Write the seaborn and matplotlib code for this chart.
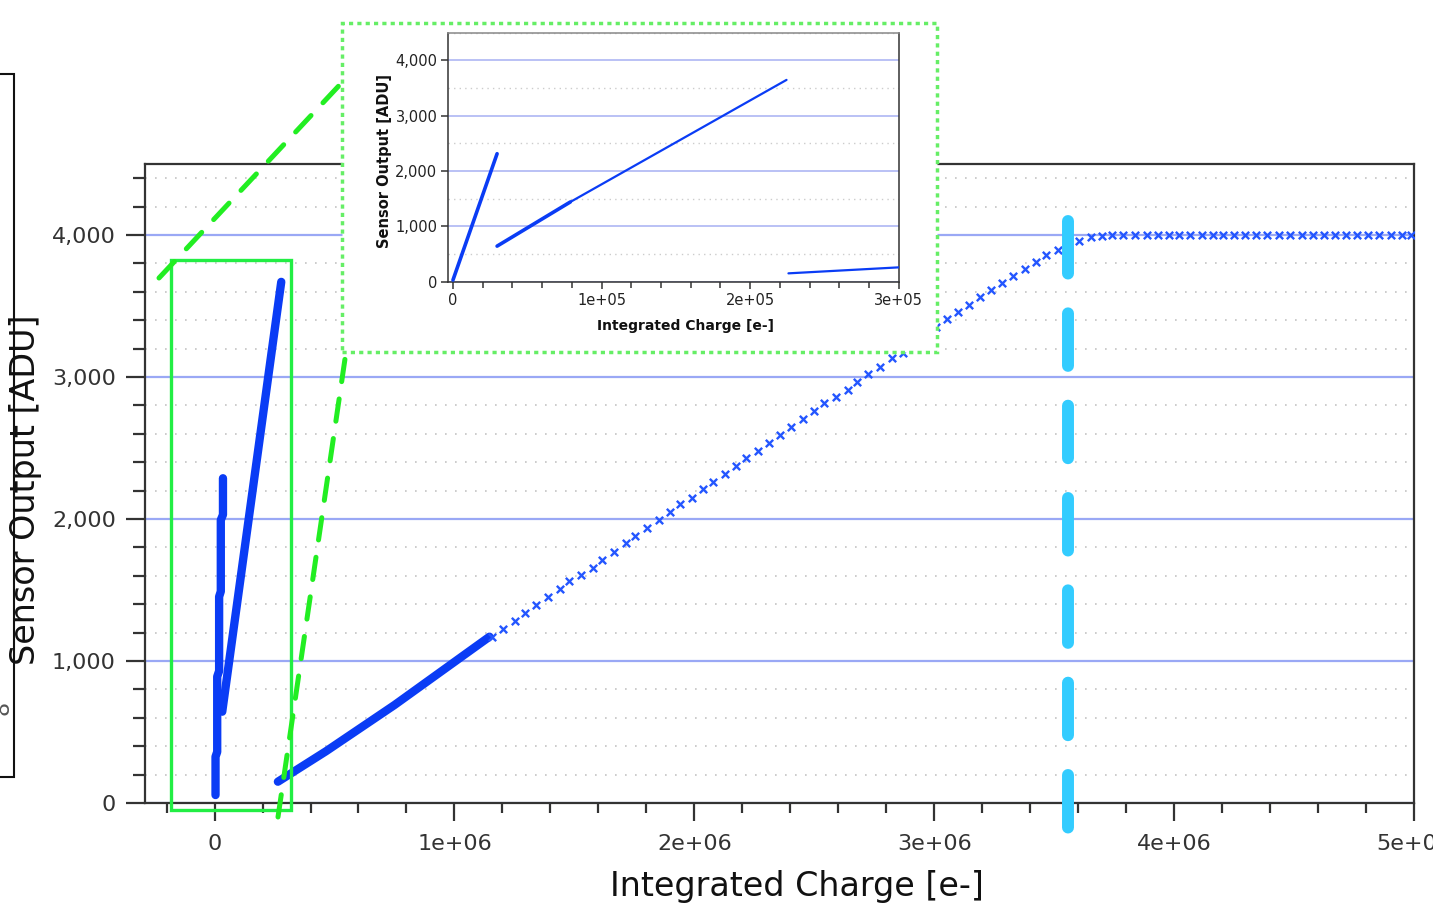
import matplotlib
matplotlib.use("Agg")
import matplotlib.pyplot as plt
import seaborn as sns
import pandas as pd
from matplotlib.patches import Rectangle
from matplotlib.lines import Line2D
from matplotlib.ticker import MultipleLocator, StrMethodFormatter, FuncFormatter

# ---------------- data ----------------
# dense parts of the main curve (vertices of thick traces), charge in e-, output in ADU
dense_segment = ["A"] * 10 + ["B"] * 2 + ["C"] * 4
dense_x = [0.004e6, 0.004e6, 0.011e6, 0.011e6, 0.019e6, 0.019e6, 0.026e6, 0.026e6, 0.035e6, 0.035e6,
           0.032e6, 0.278e6,
           0.264e6, 0.465e6, 0.75e6, 1.146e6]
dense_y = [56, 326, 360, 890, 930, 1453, 1490, 1993, 2030, 2287,
           643, 3670,
           150, 365, 690, 1171]

# sparse points of the main curve (x in units of 1e6 e-)
sparse_x_mega = [1.155, 1.204, 1.253, 1.293, 1.342, 1.390, 1.439, 1.479, 1.528, 1.576,
                 1.617, 1.665, 1.714, 1.754, 1.803, 1.851, 1.900, 1.940, 1.989, 2.038,
                 2.079, 2.128, 2.175, 2.215, 2.264, 2.313, 2.358, 2.403, 2.451, 2.500,
                 2.542, 2.590, 2.639, 2.680, 2.726, 2.775, 2.823, 2.868, 2.913, 2.960,
                 3.007, 3.053, 3.101, 3.143, 3.190, 3.236, 3.282, 3.329, 3.378, 3.424,
                 3.465, 3.514, 3.558, 3.604, 3.653, 3.701, 3.743, 3.788, 3.838, 3.889,
                 3.931, 3.977, 4.021, 4.066, 4.116, 4.163, 4.204, 4.250, 4.296, 4.340,
                 4.389, 4.438, 4.482, 4.532, 4.579, 4.625, 4.671, 4.715, 4.764, 4.809,
                 4.854, 4.903, 4.949, 4.986]
sparse_y = [1171, 1227, 1284, 1340, 1394, 1449, 1504, 1561, 1604, 1658,
            1713, 1770, 1833, 1880, 1937, 1993, 2047, 2104, 2151, 2213,
            2261, 2317, 2373, 2427, 2481, 2537, 2593, 2650, 2704, 2761,
            2815, 2861, 2908, 2967, 3021, 3073, 3131, 3171, 3228, 3290,
            3354, 3406, 3456, 3509, 3565, 3613, 3660, 3711, 3763, 3810,
            3859, 3894, 3930, 3958, 3984, 3993, 4000, 4000, 3998, 4002,
            4000, 4001, 4003, 3999, 4000, 4002, 4000, 3999, 4001, 4003,
            4000, 3999, 4001, 4000, 4002, 4000, 4001, 3999, 4003, 4000,
            4001, 4000, 4002, 4003]

# inset (zoom on the low-charge region)
inset_segment = ["A", "A", "B1", "B1", "B2", "B2", "C", "C"]
inset_x = [0, 29700, 29700, 79000, 79000, 224500, 225800, 300000]
inset_y = [30, 2313, 643, 1441, 1441, 3647, 151, 259]

threshold_x = 3.558e6          # cyan dashed marker

main_yticks = [0, 1000, 2000, 3000, 4000]
main_xticks = [0, 1e6, 2e6, 3e6, 4e6, 5e6]
inset_xticks = [0, 1e5, 2e5, 3e5]

xlabel_text = "Integrated Charge [e-]"
ylabel_text = "Sensor Output [ADU]"

# ---------------- figure ----------------
W, H = 1433, 916
sns.set_theme(style="white")
plt.rcParams["font.family"] = ["DejaVu Sans"]

fig = plt.figure(figsize=(W / 100, H / 100), dpi=100)
fig.patch.set_facecolor("white")


def fx(px):
    return px / W


def fy(py):
    return 1 - py / H


BLUE = "#0a3cf5"
DARK = "#333333"

ax = fig.add_axes([fx(145), fy(803), fx(1414) - fx(145), fy(164) - fy(803)], zorder=0)
ax.set_facecolor("white")

dense_df = pd.DataFrame({"x": dense_x, "y": dense_y, "seg": dense_segment})
sns.lineplot(data=dense_df, x="x", y="y", units="seg", estimator=None, sort=False,
             color=BLUE, linewidth=6, ax=ax, zorder=4)

sparse_df = pd.DataFrame({"x": [v * 1e6 for v in sparse_x_mega], "y": sparse_y})
sns.scatterplot(data=sparse_df, x="x", y="y", marker="x", s=28, color="#2456ff",
                linewidth=1.7, ax=ax, zorder=4)

ax.set_xlim(-0.29e6, 5e6)
ax.set_ylim(0, 4500)
ax.set_xticks(main_xticks)
ax.set_yticks(main_yticks)
ax.xaxis.set_minor_locator(MultipleLocator(2e5))
ax.yaxis.set_minor_locator(MultipleLocator(200))
ax.xaxis.set_major_formatter(FuncFormatter(lambda v, _: "0" if v == 0 else f"{v:.0e}"))
ax.yaxis.set_major_formatter(StrMethodFormatter("{x:,.0f}"))

ax.set_axisbelow(True)
ax.yaxis.grid(True, which="major", color="#9aa8f5", linewidth=1.6)
ax.yaxis.grid(True, which="minor", color="#c4c4c4", linewidth=1.2, linestyle=(0, (1, 5)))
ax.xaxis.grid(False, which="both")

ax.tick_params(axis="y", which="major", direction="out", length=14, width=1.6, color=DARK,
               labelsize=16, labelcolor=DARK, pad=7, left=True)
ax.tick_params(axis="y", which="minor", direction="out", length=9, width=1.6, color=DARK, left=True)
ax.tick_params(axis="x", which="major", direction="out", length=13, width=1.6, color=DARK,
               labelsize=16, labelcolor=DARK, pad=9, bottom=True)
ax.tick_params(axis="x", which="minor", direction="out", length=7, width=1.6, color=DARK, bottom=True)
for s in ax.spines.values():
    s.set_color(DARK)
    s.set_linewidth(1.6)
    s.set_visible(True)

ax.set_xlabel(xlabel_text, fontsize=24, color="#111111")
ax.set_ylabel(ylabel_text, fontsize=24, color="#111111")
ax.xaxis.set_label_coords(0.514, -0.105)
ax.yaxis.set_label_coords(-0.081, 0.49)

# green zoom rectangle
ax.add_patch(Rectangle((-0.18e6, -50), 0.497e6, 3874, fill=False, ec="#22ee44", lw=2.4,
                       clip_on=False, zorder=5))

# cyan threshold dashed line
ax.plot([threshold_x, threshold_x], [4099, -204], color="#33ccff", lw=8.6,
        linestyle=(0, (4.4, 3.33)), dash_capstyle="round", clip_on=False, zorder=6)

# inset white box with dotted green border
fig.add_artist(Rectangle((fx(342), fy(352)), fx(937) - fx(342), fy(23) - fy(352),
                         transform=fig.transFigure, facecolor="white", edgecolor="#66ee66",
                         lw=2.5, linestyle=(0, (1.2, 1.2)), zorder=3))

# dashed connector lines
for (x0, y0), (x1, y1) in [((159, 278), (348, 76)), ((278, 817), (346, 352))]:
    fig.add_artist(Line2D([fx(x0), fx(x1)], [fy(y0), fy(y1)], transform=fig.transFigure,
                          color="#22ee22", lw=3.6, linestyle=(0, (4.5, 3.5)),
                          dash_capstyle="round", zorder=5))

# partial neighbouring panel at the far left
fig.add_artist(Rectangle((fx(-20), fy(777)), fx(14) - fx(-20), fy(74) - fy(777),
                         transform=fig.transFigure, fill=False, ec="#111111", lw=1.5, zorder=1))
fig.text(fx(2), fy(708), "8", rotation=90, fontsize=16, color="#555555",
         ha="center", va="center")

# ---------------- inset ----------------
axin = fig.add_axes([fx(448.5), fy(281.7), fx(898.7) - fx(448.5), fy(32.7) - fy(281.7)], zorder=4)
axin.set_facecolor("white")
inset_df = pd.DataFrame({"x": inset_x, "y": inset_y, "seg": inset_segment})
widths = {"A": 2.6, "B1": 2.6, "B2": 1.6, "C": 1.6}
for seg, sub in inset_df.groupby("seg"):
    sns.lineplot(data=sub, x="x", y="y", estimator=None, sort=False, color=BLUE,
                 linewidth=widths[seg], ax=axin, zorder=4)
axin.set_xlim(-3000, 300000)
axin.set_ylim(0, 4500)
axin.set_xticks(inset_xticks)
axin.set_yticks(main_yticks)
axin.xaxis.set_minor_locator(MultipleLocator(2e4))
axin.yaxis.set_minor_locator(MultipleLocator(500))
axin.xaxis.set_major_formatter(FuncFormatter(lambda v, _: "0" if v == 0 else f"{v:.0e}"))
axin.yaxis.set_major_formatter(StrMethodFormatter("{x:,.0f}"))
axin.set_axisbelow(True)
axin.yaxis.grid(True, which="major", color="#b4bcf5", linewidth=1.3)
axin.yaxis.grid(True, which="minor", color="#cccccc", linewidth=1.0, linestyle=(0, (1, 3)))
axin.xaxis.grid(False, which="both")
axin.tick_params(axis="both", which="major", direction="out", length=5, width=1.1, color=DARK,
                 labelsize=10.5, labelcolor="#222222", pad=3, left=True, bottom=True)
axin.tick_params(axis="x", which="minor", direction="out", length=4, width=1.1, color=DARK, bottom=True)
axin.tick_params(axis="y", which="minor", length=0)
for s in axin.spines.values():
    s.set_color(DARK)
    s.set_linewidth(1.1)
    s.set_visible(True)
axin.spines["top"].set_color("#888888")
axin.set_xlabel(xlabel_text, fontsize=10, fontweight="bold", color="#111111")
axin.set_ylabel(ylabel_text, fontsize=10.5, fontweight="bold", color="#111111")
axin.xaxis.set_label_coords(0.527, -0.15)
axin.yaxis.set_label_coords(-0.125, 0.485)

fig.savefig("out.png", dpi=100, facecolor="white")
